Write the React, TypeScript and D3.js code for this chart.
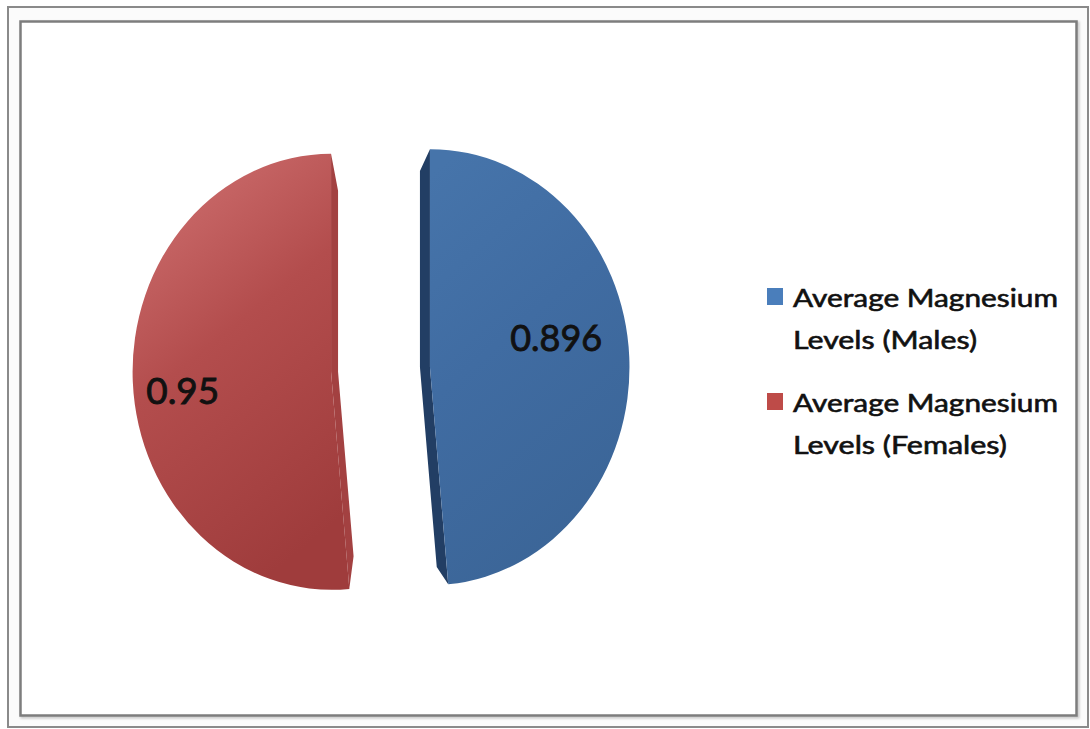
import React from "react";
import * as d3 from "d3";

// Average serum magnesium by sex (pie slices, clockwise from 12 o'clock)
const CATEGORIES = ["Males", "Females"];
const VALUES = [0.896, 0.95];
const LEGEND_LINES = [
  ["Average Magnesium", "Levels (Males)"],
  ["Average Magnesium", "Levels (Females)"],
];
const LABELS = ["0.896", "0.95"];

// Slice styling
const FACE_STOPS = [
  ["#4674aa", "#406ca2", "#3b6597"],
  ["#cf7070", "#b34d4d", "#9f3c3c"],
];
const SIDE_COLORS = ["#223e64", "#a34141"];
const LEGEND_COLORS = ["#4a7ebb", "#be4b48"];

// Layout
const W = 1090;
const H = 729;
const CX = 380.5;
const CY = 369.5;
const RX = 199;
const RY = 218;
const EXPLODE = 49.5;
// label anchor in unit-ellipse polar coordinates (degrees, radius fraction)
const LABEL_POLAR = [
  { angle: 77.4, r: 0.65 },
  { angle: 263.6, r: 0.75 },
];
const LABEL_WIDTH = [92, 73];

type P = [number, number];

export default function App() {
  const pie = d3.pie<number>().sort(null).value((d) => d);
  const arcs = pie(VALUES);
  const unitArc = d3.arc<d3.PieArcDatum<number>>().innerRadius(0).outerRadius(1);

  const slices = arcs.map((a, i) => {
    const mid = (a.startAngle + a.endAngle) / 2;
    const cx = CX + EXPLODE * Math.sin(mid);
    const cy = CY - EXPLODE * Math.cos(mid);
    const pt = (ang: number, r = 1): P => [
      cx + RX * r * Math.sin(ang),
      cy - RY * r * Math.cos(ang),
    ];
    const lerp = (p: P, q: P, t: number): P => [p[0] + (q[0] - p[0]) * t, p[1] + (q[1] - p[1]) * t];
    const add = (p: P, dx: number, dy = 0): P => [p[0] + dx, p[1] + dy];
    const C: P = [cx, cy];
    let side: P[];
    if (i === 0) {
      // cut face seen to the left of the first slice
      const T = pt(a.startAngle);
      const B = pt(a.endAngle);
      const d = -10;
      side = [T, add(lerp(T, C, 0.1), d), add(C, d), add(lerp(C, B, 0.92), d), B, C];
    } else {
      // cut face seen to the right of the second slice
      const T = pt(a.endAngle);
      const B = pt(a.startAngle);
      const d = 7;
      side = [T, add(lerp(T, C, 0.17), d), add(C, d), add(lerp(C, B, 0.85), d), B, C];
    }
    const lp = LABEL_POLAR[i];
    const la = (lp.angle * Math.PI) / 180;
    const label = pt(la, lp.r);
    return { a, cx, cy, side, label, i };
  });

  const line = d3.line<P>().curve(d3.curveLinearClosed);

  return (
    <svg
      width={W}
      height={H}
      style={{ position: "absolute", left: 0, top: 0, background: "#ffffff" }}
      fontFamily="Lato, 'Open Sans', sans-serif"
    >
      <defs>
        {FACE_STOPS.map((s, i) => (
          <linearGradient key={i} id={`face${i}`} x1="0.15" y1="0" x2="0.55" y2="1">
            <stop offset="0" stopColor={s[0]} />
            <stop offset="0.45" stopColor={s[1]} />
            <stop offset="1" stopColor={s[2]} />
          </linearGradient>
        ))}
        <filter id="frameShadow" x="-2%" y="-2%" width="104%" height="104%">
          <feGaussianBlur stdDeviation="0.8" />
        </filter>
      </defs>

      {/* chart frame */}
      <rect x={8} y={7} width={1080} height={720} fill="#fbfbfb" stroke="#8a8a8a" strokeWidth={2} />
      <rect x={22} y={23} width={1056} height={694} fill="none" stroke="#c8c8c8" strokeWidth={3} filter="url(#frameShadow)" />
      <rect x={20.5} y={21.5} width={1056} height={694} fill="#ffffff" stroke="#7d7d7d" strokeWidth={2.5} />

      {/* slices */}
      {slices.map((s) => (
        <g key={CATEGORIES[s.i]}>
          <path d={line(s.side) || ""} fill={SIDE_COLORS[s.i]} />
          <path
            d={unitArc(s.a) || ""}
            transform={`translate(${s.cx},${s.cy}) scale(${RX},${RY})`}
            fill={`url(#face${s.i})`}
          />
        </g>
      ))}

      {/* value labels */}
      {slices.map((s) => (
        <text
          key={`lbl${s.i}`}
          x={s.label[0]}
          y={s.label[1]}
          textAnchor="middle"
          dominantBaseline="central"
          fontSize={37}
          fill="#111111"
          stroke="#111111"
          strokeWidth={0.9}
          textLength={LABEL_WIDTH[s.i]}
          lengthAdjust="spacingAndGlyphs"
        >
          {LABELS[s.i]}
        </text>
      ))}

      {/* legend */}
      {LEGEND_LINES.map((lines, i) => {
        const top = 288 + i * 105;
        return (
          <g key={`leg${i}`}>
            <rect x={767} y={top} width={16} height={17} fill={LEGEND_COLORS[i]} />
            {lines.map((t, j) => (
              <text
                key={j}
                x={793}
                y={top + 19 + j * 42}
                fontSize={24.5}
                fill="#111111"
                stroke="#111111"
                strokeWidth={0.6}
                textLength={j === 0 ? 265 : i === 0 ? 184 : 214}
                lengthAdjust="spacingAndGlyphs"
              >
                {t}
              </text>
            ))}
          </g>
        );
      })}
    </svg>
  );
}
